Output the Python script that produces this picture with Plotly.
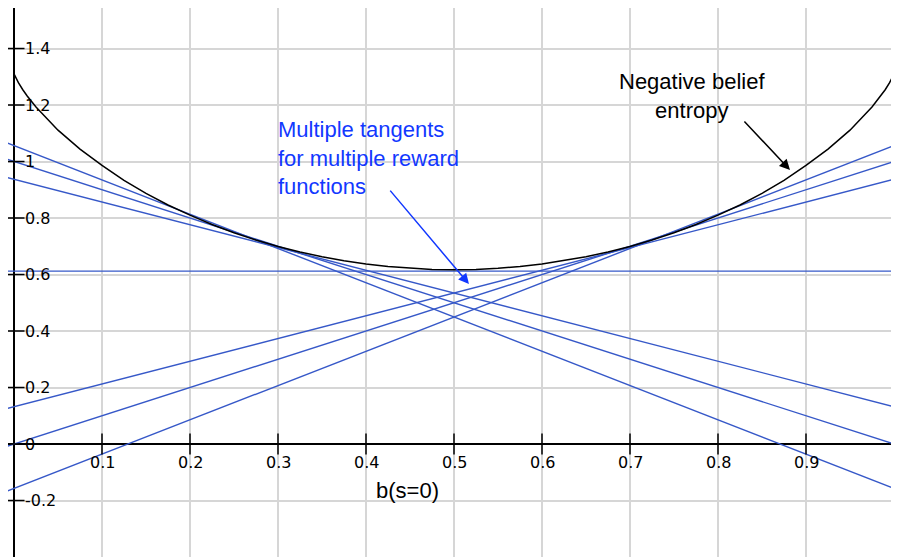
import plotly.graph_objects as go

# ---- data ----
curve_x = [0.0, 0.0025, 0.005, 0.01, 0.015, 0.025, 0.05, 0.075, 0.1, 0.125, 0.15, 0.175, 0.2, 0.225,
           0.25, 0.275, 0.3, 0.325, 0.35, 0.375, 0.4, 0.425, 0.45, 0.475, 0.5,
           0.525, 0.55, 0.575, 0.6, 0.625, 0.65, 0.675, 0.7, 0.725, 0.75, 0.775, 0.8, 0.825,
           0.85, 0.875, 0.9, 0.925, 0.95, 0.975, 0.985, 0.99, 0.995, 0.9975, 1.0]
curve_y = [1.31, 1.292, 1.279, 1.254, 1.232, 1.193, 1.111, 1.044, 0.986, 0.933, 0.887, 0.846, 0.810, 0.777,
           0.748, 0.722, 0.699, 0.680, 0.663, 0.649, 0.637, 0.628, 0.622, 0.618, 0.617,
           0.618, 0.622, 0.628, 0.637, 0.649, 0.663, 0.680, 0.699, 0.722, 0.748, 0.777, 0.810, 0.846,
           0.887, 0.933, 0.986, 1.044, 1.111, 1.193, 1.232, 1.254, 1.279, 1.292, 1.31]

# tangent lines: value at b=0 and value at b=1
tangent_left = [1.056, 1.0, 0.937, 0.612, 0.132, 0.0, -0.157]
tangent_right = [-0.157, 0.0, 0.132, 0.612, 0.937, 1.0, 1.056]

x_ticks = [0.1, 0.2, 0.3, 0.4, 0.5, 0.6, 0.7, 0.8, 0.9, 1.0]
x_tick_labels = ["0.1", "0.2", "0.3", "0.4", "0.5", "0.6", "0.7", "0.8", "0.9", ""]
y_ticks = [-0.2, 0.0, 0.2, 0.4, 0.6, 0.8, 1.0, 1.2, 1.4]
y_tick_labels = ["-0.2", "0", "0.2", "0.4", "0.6", "0.8", "1", "1.2", "1.4"]

curve_label = "Negative belief<br>entropy"
tangent_label = "Multiple tangents<br>for multiple reward<br>functions"
x_title = "b(s=0)"

# ---- styling ----
X_RANGE = [-0.00682, 1.00568]
Y_RANGE = [-0.400, 1.5434]
BLUE_LINE = "#3658c8"
BLUE_TEXT = "#1238ff"
TEXT_FONT = "Liberation Sans, Arial, Helvetica, sans-serif"
TICK_FONT = "DejaVu Sans, sans-serif"

fig = go.Figure()

# tangent lines (extended slightly past 0 and 1 to the plot edges)
ext = 0.02
for yl, yr in zip(tangent_left, tangent_right):
    slope = yr - yl
    fig.add_trace(go.Scatter(
        x=[-ext, 1 + ext], y=[yl - slope * ext, yr + slope * ext],
        mode="lines", line=dict(color=BLUE_LINE, width=1.4),
        hoverinfo="skip", showlegend=False))

# negative belief entropy curve
fig.add_trace(go.Scatter(
    x=curve_x, y=curve_y, mode="lines",
    line=dict(color="black", width=1.5),
    hoverinfo="skip", showlegend=False))

# tick marks crossing the axes
fig.add_trace(go.Scatter(
    x=x_ticks, y=[0] * len(x_ticks), mode="markers",
    marker=dict(symbol="line-ns", size=15, line=dict(color="black", width=1.5)),
    hoverinfo="skip", showlegend=False))
fig.add_trace(go.Scatter(
    x=[0] * len(y_ticks), y=y_ticks, mode="markers",
    marker=dict(symbol="line-ew", size=15, line=dict(color="black", width=1.5)),
    hoverinfo="skip", showlegend=False))

annotations = []
for xv, lab in zip(x_ticks, x_tick_labels):
    if lab:
        annotations.append(dict(x=xv, y=0, xref="x", yref="y", text=lab, showarrow=False,
                                xanchor="center", yanchor="middle", yshift=-18,
                                font=dict(family=TICK_FONT, size=16, color="black")))
for yv, lab in zip(y_ticks, y_tick_labels):
    annotations.append(dict(x=0, y=yv, xref="x", yref="y", text=lab, showarrow=False,
                            xanchor="left", yanchor="middle", xshift=9,
                            font=dict(family=TICK_FONT, size=16, color="black")))

# axis title
annotations.append(dict(x=0.4472, y=-0.163, xref="x", yref="y", text=x_title, showarrow=False,
                        xanchor="center", yanchor="middle",
                        font=dict(family=TEXT_FONT, size=22, color="black")))

# curve label + arrow
annotations.append(dict(x=0.771, y=1.232, xref="x", yref="y", text=curve_label, showarrow=False,
                        xanchor="center", yanchor="middle", align="center",
                        font=dict(family=TEXT_FONT, size=22, color="black")))
annotations.append(dict(x=0.8818, y=0.970, xref="x", yref="y", text="", showarrow=True,
                        ax=-47, ay=-50, arrowhead=2, arrowsize=1.4, arrowwidth=1.5,
                        arrowcolor="black", standoff=0, startstandoff=0))

# tangent label + arrow
annotations.append(dict(x=0.2975, y=1.0135, xref="x", yref="y", text=tangent_label, showarrow=False,
                        xanchor="left", yanchor="middle", align="left",
                        font=dict(family=TEXT_FONT, size=22, color=BLUE_TEXT)))
annotations.append(dict(x=0.517, y=0.566, xref="x", yref="y", text="", showarrow=True,
                        ax=-80, ay=-95, arrowhead=2, arrowsize=1.4, arrowwidth=1.5,
                        arrowcolor=BLUE_TEXT, standoff=0, startstandoff=0))

fig.update_layout(
    width=891, height=549,
    margin=dict(l=0, r=0, t=0, b=0),
    paper_bgcolor="white", plot_bgcolor="white",
    showlegend=False,
    annotations=annotations,
    xaxis=dict(range=X_RANGE, dtick=0.1, tick0=0, showgrid=True, gridcolor="#d6d6d6", gridwidth=1.5,
               zeroline=True, zerolinecolor="black", zerolinewidth=1.5,
               showticklabels=False, ticks="", showline=False, fixedrange=True),
    yaxis=dict(range=Y_RANGE, dtick=0.2, tick0=0, showgrid=True, gridcolor="#d6d6d6", gridwidth=1.5,
               zeroline=True, zerolinecolor="black", zerolinewidth=1.5,
               showticklabels=False, ticks="", showline=False, fixedrange=True),
)

fig.write_html("out.html")
